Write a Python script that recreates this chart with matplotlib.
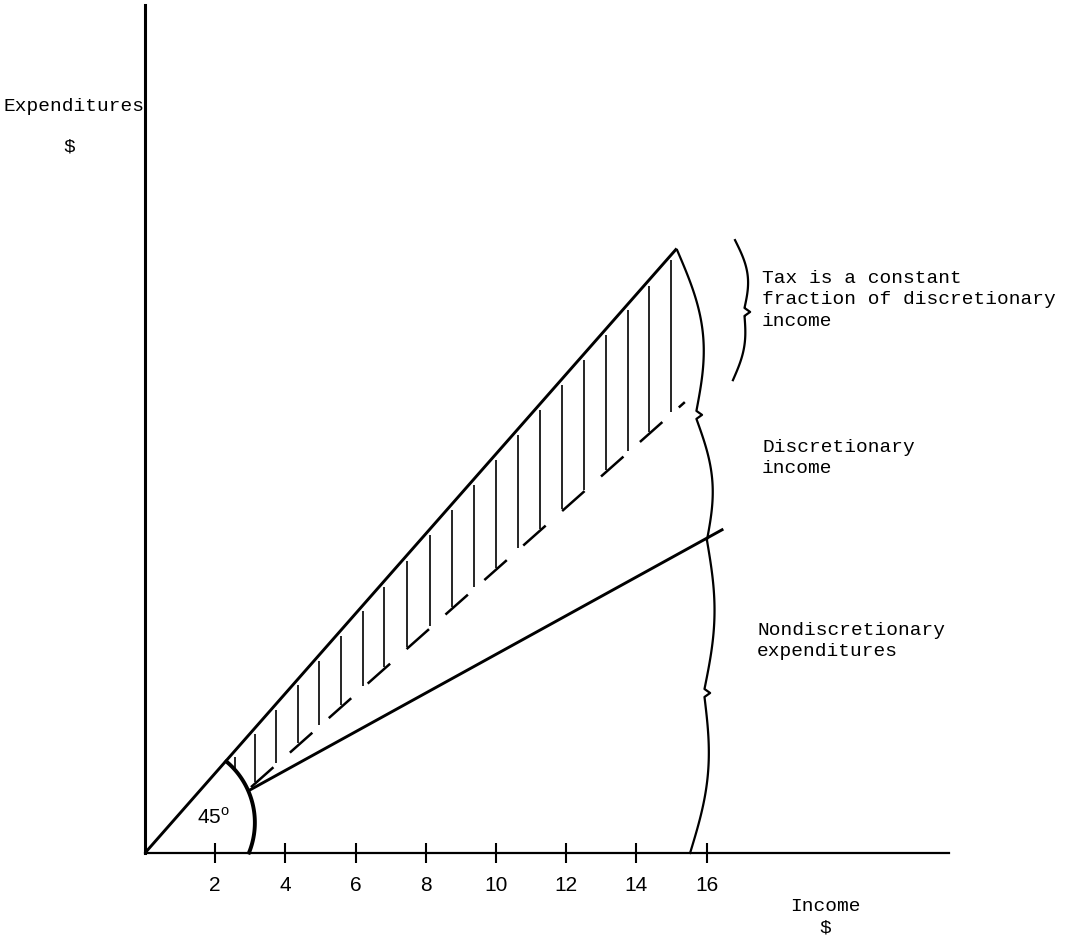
# Discretionary income diagram: tax as a constant fraction of discretionary income

import numpy as np
import matplotlib
matplotlib.use("Agg")
import matplotlib.pyplot as plt

# Income axis ticks
income_ticks = [2, 4, 6, 8, 10, 12, 14, 16]

# 45 degree line (expenditures = income)
line45_x = [0, 15.15]
line45_y = [0, 15.15]

# Nondiscretionary expenditures line
nondisc_x = [2.99, 16.44]
nondisc_y = [1.58, 8.10]

# Dashed line (income left after tax)
dash_x = [3.02, 15.38]
dash_y = [1.65, 11.30]

# Vertical hatching for the tax
hatch_x = [2.56, 3.13, 3.73, 4.36, 4.96, 5.58, 6.21, 6.81, 7.46, 8.12, 8.74,
           9.37, 10.0, 10.63, 11.25, 11.88, 12.51, 13.13, 13.75, 14.37, 15.0]

# 45 degree arc: centre, radii, start/end angle
arc_center = (0.86, 0.76)
arc_radius = (2.27, 2.0)
arc_theta = (-22, 50)

# Braces: top point, cusp point, bottom point, bulge of upper/lower half
tax_brace = [(16.81, 15.36), (17.24, 13.56), (16.75, 11.85), (0.22, 0.15)]
disc_brace = [(15.16, 15.11), (15.87, 10.98), (16.01, 7.84), (0.45, 0.30)]
nondisc_brace = [(16.01, 7.84), (16.10, 4.01), (15.53, 0.0), (0.25, 0.30)]

# Labels
tax_label = "Tax is a constant\nfraction of discretionary\nincome"
disc_label = "Discretionary\nincome"
nondisc_label = "Nondiscretionary\nexpenditures"

mono = "Liberation Mono"

fig = plt.figure(figsize=(10.69, 9.42), dpi=100)
ax = fig.add_axes([0, 0, 1, 1])
ax.set_xlim(-4.131, 26.325)
ax.set_ylim(-2.231, 21.378)

# axes through the origin
for s in ["top", "right"]:
    ax.spines[s].set_visible(False)
ax.spines["left"].set_position(("data", 0))
ax.spines["bottom"].set_position(("data", 0))
ax.spines["left"].set_bounds(0, 21.25)
ax.spines["bottom"].set_bounds(0, 22.9)
ax.spines["left"].set_linewidth(2.2)
ax.spines["bottom"].set_linewidth(1.6)

ax.set_xticks(income_ticks)
ax.set_yticks([])
ax.tick_params(axis="x", direction="inout", length=15, width=1.5, pad=9, labelsize=15)
for lab in ax.get_xticklabels():
    lab.set_family("Liberation Sans")

# lines
ax.plot(line45_x, line45_y, color="black", lw=2.1, solid_capstyle="butt")
ax.plot(nondisc_x, nondisc_y, color="black", lw=2.1)
ax.plot(dash_x, dash_y, color="black", lw=1.8, dashes=(12, 8.8))

# 45 degree arc
th = np.radians(np.linspace(arc_theta[0], arc_theta[1], 80))
ax.plot(arc_center[0] + arc_radius[0] * np.cos(th),
        arc_center[1] + arc_radius[1] * np.sin(th), color="black", lw=2.8)

# hatching between the dashed line and the 45 degree line
hx = np.array(hatch_x)
u = np.clip((hx - arc_center[0]) / arc_radius[0], -1, 1)
arc_top = arc_center[1] + arc_radius[1] * np.sqrt(1 - u ** 2)
bottoms = np.maximum(np.interp(hx, dash_x, dash_y), arc_top) + 0.05
tops = np.interp(hx, line45_x, line45_y) - 0.15
ax.vlines(hx, bottoms, tops, color="black", lw=1.2)


def draw_brace(top, cusp, bottom, bulge, hook=0.16, dy=0.1):
    t = np.linspace(0, 1, 60)
    x1, y1 = cusp[0] - hook, cusp[1] + dy
    xu = top[0] + (x1 - top[0]) * t + bulge[0] * np.sin(np.pi * t)
    yu = top[1] + (y1 - top[1]) * t
    x2, y2 = cusp[0] - hook, cusp[1] - dy
    xl = x2 + (bottom[0] - x2) * t + bulge[1] * np.sin(np.pi * t)
    yl = y2 + (bottom[1] - y2) * t
    xs = np.concatenate([xu, [cusp[0]], xl])
    ys = np.concatenate([yu, [cusp[1]], yl])
    ax.plot(xs, ys, color="black", lw=1.6)


draw_brace(*tax_brace)
draw_brace(*disc_brace)
draw_brace(*nondisc_brace)

# texts
ax.text(-4.02, 18.60, "Expenditures", family=mono, fontsize=14, va="baseline")
ax.text(-2.16, 17.69, "$", family=mono, fontsize=14, ha="center", va="center")
ax.text(18.38, -1.35, "Income", family=mono, fontsize=14, va="center")
ax.text(19.37, -1.88, "$", family=mono, fontsize=14, ha="center", va="center")
ax.text(17.58, 13.86, tax_label, family=mono, fontsize=14, va="center", linespacing=1.35)
ax.text(17.58, 9.90, disc_label, family=mono, fontsize=14, va="center", linespacing=1.35)
ax.text(17.44, 5.31, nondisc_label, family=mono, fontsize=14, va="center", linespacing=1.35)
ax.text(1.94, 0.90, "45$^{\\mathregular{o}}$", family="Liberation Sans", fontsize=15,
        ha="center", va="center")

fig.savefig("out.png", dpi=100)
